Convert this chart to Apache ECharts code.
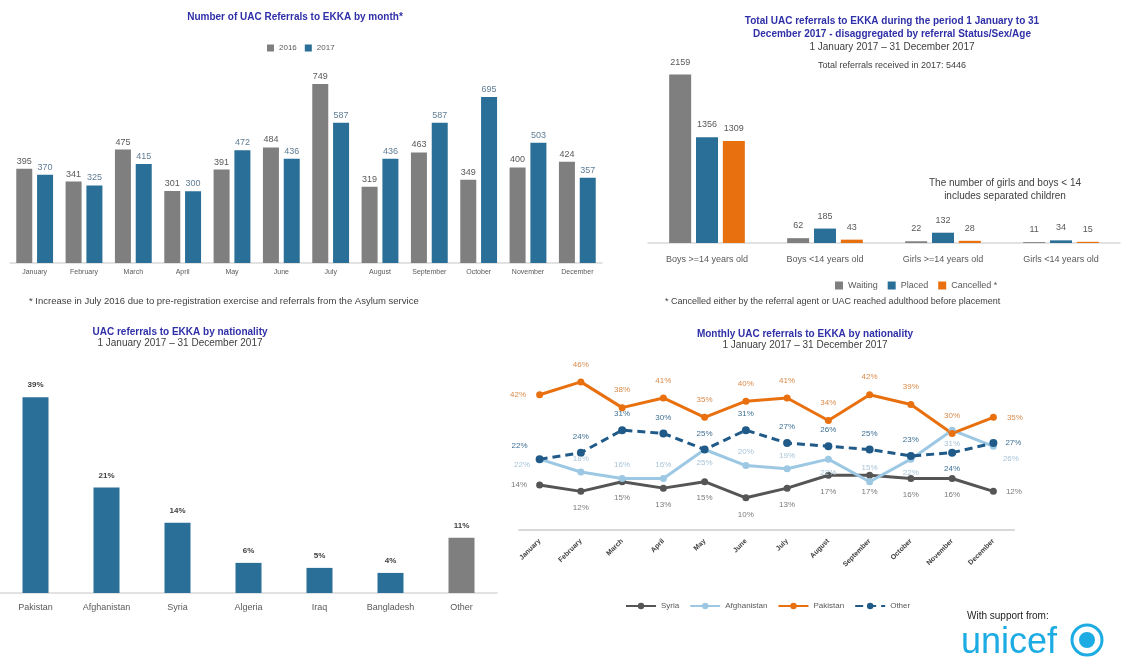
<!DOCTYPE html>
<html>
<head>
<meta charset="utf-8">
<script src="https://cdn.jsdelivr.net/npm/echarts@6/dist/echarts.min.js"></script>
<style>
  html, body { margin: 0; padding: 0; background: #fff; }
  #chart { width: 1123px; height: 661px; }
</style>
</head>
<body>
<div id="chart"></div>
<script>
// monthly referrals
const months = ["January", "February", "March", "April", "May", "June", "July", "August", "September", "October", "November", "December"];
const refs2016 = [395, 341, 475, 301, 391, 484, 749, 319, 463, 349, 400, 424];
const refs2017 = [370, 325, 415, 300, 472, 436, 587, 436, 587, 695, 503, 357];

// referral status by sex/age
const statusCats = ["Boys >=14 years old", "Boys <14 years old", "Girls >=14 years old", "Girls <14 years old"];
const waiting = [2159, 62, 22, 11];
const placed = [1356, 185, 132, 34];
const cancelled = [1309, 43, 28, 15];

// nationality share
const nationCats = ["Pakistan", "Afghanistan", "Syria", "Algeria", "Iraq", "Bangladesh", "Other"];
const nationShare = [39, 21, 14, 6, 5, 4, 11];

// monthly share by nationality (%)
const syria = [14, 12, 15, 13, 15, 10, 13, 17, 17, 16, 16, 12];
const afghanistan = [22, 18, 16, 16, 25, 20, 19, 22, 15, 22, 31, 26];
const pakistan = [42, 46, 38, 41, 35, 40, 41, 34, 42, 39, 30, 35];
const other = [22, 24, 31, 30, 25, 31, 27, 26, 25, 23, 24, 27];

const GRAY = "#7f7f7f";
const BLUE = "#2a6f97";
const ORANGE = "#e8700f";
const LIGHT = "#9cc8e4";
const DARK = "#555555";
const NAVY = "#1f5a88";
const TITLE = "#2f2fa8";
const FONT = "Liberation Sans";

// label placement for the monthly line chart
const afghanPos = ["left", "top", "top", "top", "bottom", "top", "top", "bottom", "top", "bottom", "bottom", "right"];
const otherPos = ["left", "top", "top", "top", "top", "top", "top", "top", "top", "top", "bottom", "right"];
function lineData(values, defPos, posList, firstDy, lastDy) {
  return values.map((v, i) => {
    let pos = posList ? posList[i] : defPos;
    let dy = 0;
    if (i === 0) { pos = "left"; dy = firstDy || 0; }
    if (i === values.length - 1) { pos = "right"; dy = lastDy || 0; }
    return { value: v, label: { position: pos, offset: [0, dy] } };
  });
}

const myChart = echarts.init(document.getElementById("chart"));

const titleStyle = { fontFamily: FONT, fontSize: 10, fontWeight: "bold", color: TITLE };
const subStyle = { fontFamily: FONT, fontSize: 10, color: "#404040" };
const smallStyle = { fontFamily: FONT, fontSize: 9, fontWeight: "normal", color: "#404040" };

const option = {
  textStyle: { fontFamily: FONT },
  title: [
    { text: "Number of UAC Referrals to EKKA by month*", left: 290, textAlign: "center", top: 7, textStyle: titleStyle },
    {
      text: "Total UAC referrals to EKKA during the period 1 January to 31\nDecember 2017 - disaggregated by referral Status/Sex/Age",
      subtext: "1 January 2017 \u2013 31 December 2017",
      left: 887, textAlign: "center", top: 10, itemGap: 1,
      textStyle: Object.assign({ lineHeight: 13 }, titleStyle), subtextStyle: subStyle
    },
    { text: "Total referrals received in 2017: 5446", left: 887, textAlign: "center", top: 56, textStyle: smallStyle },
    {
      text: "The number of girls and boys < 14\nincludes separated children", left: 1000, textAlign: "center", top: 172,
      textStyle: Object.assign({}, smallStyle, { fontSize: 10, lineHeight: 13 })
    },
    { text: "* Increase in July 2016 due to pre-registration exercise and referrals from the Asylum service", left: 24, top: 291, textStyle: Object.assign({}, smallStyle, { fontSize: 9.5 }) },
    { text: "* Cancelled either by the referral agent or UAC reached adulthood before placement", left: 660, top: 292, textStyle: smallStyle },
    {
      text: "UAC referrals to EKKA by nationality", subtext: "1 January 2017 \u2013 31 December 2017",
      left: 175, textAlign: "center", top: 322, itemGap: 1, textStyle: titleStyle, subtextStyle: subStyle
    },
    {
      text: "Monthly UAC referrals to EKKA by nationality", subtext: "1 January 2017 \u2013 31 December 2017",
      left: 800, textAlign: "center", top: 324, itemGap: 1, textStyle: titleStyle, subtextStyle: subStyle
    },
    { text: "With support from:", left: 962, top: 606, textStyle: { fontFamily: FONT, fontSize: 10, fontWeight: "normal", color: "#222" } },
    { text: "unicef", left: 956, top: 620, textStyle: { fontFamily: FONT, fontSize: 36, color: "#1cabe2", fontWeight: "normal" } }
  ],
  graphic: [
    { type: "circle", shape: { cx: 1087, cy: 640, r: 15 }, style: { fill: "none", stroke: "#1cabe2", lineWidth: 3 } },
    { type: "circle", shape: { cx: 1087, cy: 640, r: 8 }, style: { fill: "#1cabe2" } }
  ],
  legend: [
    {
      data: ["2016", "2017"], left: 262, top: 39, icon: "rect", itemWidth: 7, itemHeight: 7, itemGap: 8,
      textStyle: { fontSize: 8, color: "#595959" }
    },
    {
      data: ["Waiting", "Placed", "Cancelled *"], left: 830, top: 276, icon: "rect", itemWidth: 8, itemHeight: 8, itemGap: 10,
      textStyle: { fontSize: 9, color: "#595959" }
    },
    {
      data: ["Syria", "Afghanistan", "Pakistan", "Other"], left: 620, top: 597, itemWidth: 30, itemHeight: 8, itemGap: 10,
      textStyle: { fontSize: 8, color: "#595959" }
    }
  ],
  grid: [
    { left: 10, right: 521, top: 60, bottom: 398 },
    { left: 648, right: 3, top: 48, bottom: 418 },
    { left: 0, right: 626, top: 367, bottom: 68 },
    { left: 519, right: 109, top: 369, bottom: 131 }
  ],
  xAxis: [
    {
      gridIndex: 0, type: "category", data: months,
      axisLine: { lineStyle: { color: "#d9d9d9", width: 1.5 } }, axisTick: { show: false },
      axisLabel: { fontSize: 7, color: "#595959", interval: 0, margin: 6 }
    },
    {
      gridIndex: 1, type: "category", data: statusCats,
      axisLine: { lineStyle: { color: "#d9d9d9", width: 1.5 } }, axisTick: { show: false },
      axisLabel: { fontSize: 9, color: "#595959", interval: 0, margin: 12 }
    },
    {
      gridIndex: 2, type: "category", data: nationCats,
      axisLine: { lineStyle: { color: "#d9d9d9", width: 1.5 } }, axisTick: { show: false },
      axisLabel: { fontSize: 9, color: "#595959", interval: 0, margin: 10 }
    },
    {
      gridIndex: 3, type: "category", data: months,
      axisLine: { lineStyle: { color: "#d9d9d9", width: 2 } }, axisTick: { show: false },
      axisLabel: { fontSize: 7, fontWeight: "bold", color: "#404040", interval: 0, rotate: 45, margin: 10 }
    }
  ],
  yAxis: [
    { gridIndex: 0, type: "value", min: 0, max: 850, show: false, splitLine: { show: false } },
    { gridIndex: 1, type: "value", min: 0, max: 2500, show: false, splitLine: { show: false } },
    { gridIndex: 2, type: "value", min: 0, max: 45, show: false, splitLine: { show: false } },
    { gridIndex: 3, type: "value", min: 0, max: 50, show: false, splitLine: { show: false } }
  ],
  series: [
    {
      name: "2016", type: "bar", xAxisIndex: 0, yAxisIndex: 0, data: refs2016,
      barWidth: 16, barGap: "30%", itemStyle: { color: GRAY },
      label: { show: true, position: "top", fontSize: 9, color: "#595959", distance: 3 }
    },
    {
      name: "2017", type: "bar", xAxisIndex: 0, yAxisIndex: 0, data: refs2017,
      barWidth: 16, barGap: "30%", itemStyle: { color: BLUE },
      label: { show: true, position: "top", fontSize: 9, color: "#607d95", distance: 3 }
    },
    {
      name: "Waiting", type: "bar", xAxisIndex: 1, yAxisIndex: 1, data: waiting,
      barWidth: 22, barGap: "22%", itemStyle: { color: GRAY },
      label: { show: true, position: "top", fontSize: 9, color: "#595959", distance: 8 }
    },
    {
      name: "Placed", type: "bar", xAxisIndex: 1, yAxisIndex: 1, data: placed,
      barWidth: 22, barGap: "22%", itemStyle: { color: BLUE },
      label: { show: true, position: "top", fontSize: 9, color: "#595959", distance: 8 }
    },
    {
      name: "Cancelled *", type: "bar", xAxisIndex: 1, yAxisIndex: 1, data: cancelled,
      barWidth: 22, barGap: "22%", itemStyle: { color: ORANGE },
      label: { show: true, position: "top", fontSize: 9, color: "#595959", distance: 8 }
    },
    {
      name: "Share", type: "bar", xAxisIndex: 2, yAxisIndex: 2, data: nationShare,
      barWidth: 26,
      itemStyle: { color: p => (p.name === "Other" ? GRAY : BLUE) },
      label: { show: true, position: "top", fontSize: 8, fontWeight: "bold", color: "#404040", distance: 8, formatter: "{c}%" }
    },
    {
      name: "Syria", type: "line", xAxisIndex: 3, yAxisIndex: 3, data: lineData(syria, "bottom"),
      symbol: "circle", symbolSize: 7, lineStyle: { color: DARK, width: 3 }, itemStyle: { color: DARK },
      label: { show: true, fontSize: 8, color: "#7a7a7a", distance: 9, formatter: "{c}%" }
    },
    {
      name: "Afghanistan", type: "line", xAxisIndex: 3, yAxisIndex: 3, data: lineData(afghanistan, "top", afghanPos, 6, 13),
      symbol: "circle", symbolSize: 7, lineStyle: { color: LIGHT, width: 3 }, itemStyle: { color: LIGHT },
      label: { show: true, fontSize: 8, color: "#a8c4d8", distance: 6, formatter: "{c}%" }
    },
    {
      name: "Pakistan", type: "line", xAxisIndex: 3, yAxisIndex: 3, data: lineData(pakistan, "top"),
      symbol: "circle", symbolSize: 7, lineStyle: { color: ORANGE, width: 3 }, itemStyle: { color: ORANGE },
      label: { show: true, fontSize: 8, color: "#d98a4a", distance: 10, formatter: "{c}%" }
    },
    {
      name: "Other", type: "line", xAxisIndex: 3, yAxisIndex: 3, data: lineData(other, "top", otherPos, -13, 0),
      symbol: "circle", symbolSize: 8, lineStyle: { color: NAVY, width: 3, type: [8, 5] }, itemStyle: { color: NAVY },
      label: { show: true, fontSize: 8, color: "#3d6f93", distance: 8, formatter: "{c}%" }
    }
  ]
};

myChart.setOption(option);
</script>
</body>
</html>
